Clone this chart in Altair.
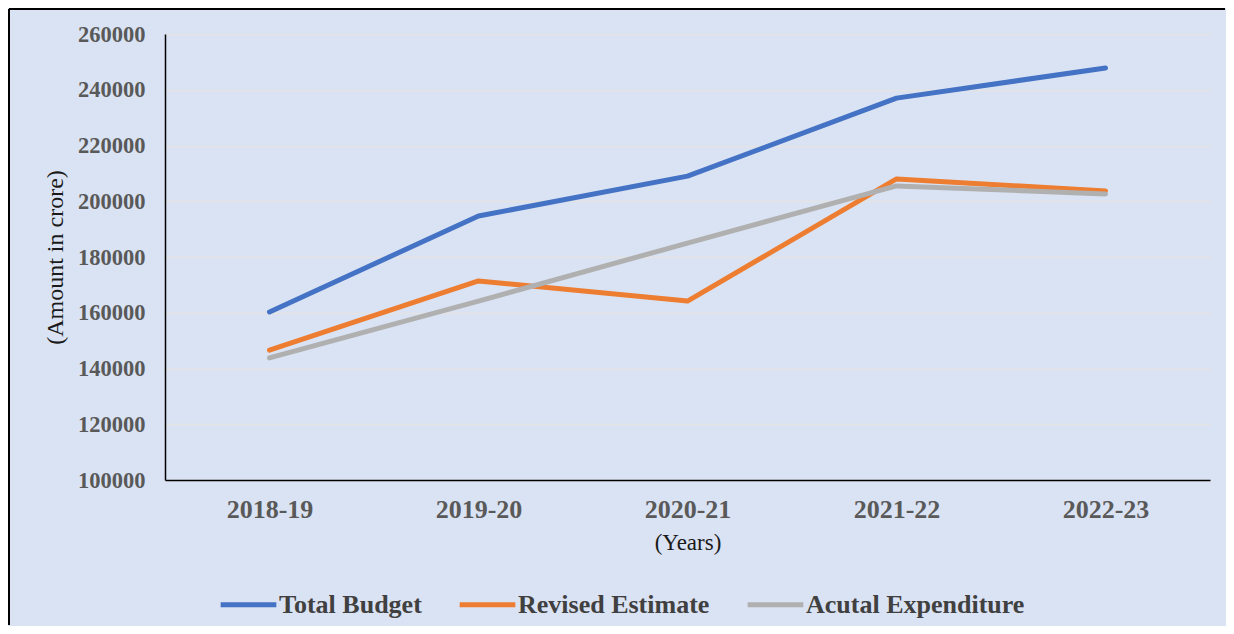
import altair as alt
import pandas as pd

years = ["2018-19", "2019-20", "2020-21", "2021-22", "2022-23"]
series = ["Total Budget", "Revised Estimate", "Acutal Expenditure"]
total_budget = [160300, 194700, 209000, 237000, 247800]
revised_estimate = [146600, 171400, 164200, 208000, 203700]
actual_expenditure = [143800, 164200, 185000, 205500, 202600]
colors = ["#4472C4", "#ED7D31", "#B0B0B0"]
y_ticks = [100000, 120000, 140000, 160000, 180000, 200000, 220000, 240000, 260000]

rows = []
for name, vals in zip(series, [total_budget, revised_estimate, actual_expenditure]):
    for yr, v in zip(years, vals):
        rows.append({"Year": yr, "Series": name, "Amount": v, "order": series.index(name)})
df = pd.DataFrame(rows)

FONT = "Liberation Serif"

lines = alt.Chart(df).mark_line(strokeWidth=5, strokeCap="round", strokeJoin="round").encode(
    x=alt.X("Year:N", sort=years, title="(Years)",
            scale=alt.Scale(type="point", padding=0.5),
            axis=alt.Axis(labelAngle=0, ticks=False, domainColor="#000000", domainWidth=1.5,
                          labelFont=FONT, labelFontSize=26, labelFontWeight="bold",
                          labelColor="#595959", labelPadding=16,
                          titleFont=FONT, titleFontSize=23, titleFontWeight="normal",
                          titleColor="#1a1a1a", titlePadding=9, grid=False)),
    y=alt.Y("Amount:Q", title="(Amount in crore)",
            scale=alt.Scale(domain=[100000, 260000], nice=False, zero=False),
            axis=alt.Axis(values=y_ticks, ticks=False, domainColor="#000000", domainWidth=1.5,
                          format="d",
                          labelFont=FONT, labelFontSize=22.5, labelFontWeight="bold",
                          labelColor="#595959", labelPadding=20,
                          titleFont=FONT, titleFontSize=24, titleFontWeight="normal",
                          titleColor="#1a1a1a", titlePadding=10,
                          grid=True, gridColor="#e4e4e4", gridWidth=1.5)),
    color=alt.Color("Series:N", sort=series,
                    scale=alt.Scale(domain=series, range=colors),
                    legend=alt.Legend(title=None, orient="none", direction="horizontal",
                                      legendX=53, legendY=540,
                                      symbolType="stroke", symbolStrokeWidth=5, symbolSize=3100,
                                      labelFont=FONT, labelFontSize=26, labelFontWeight="bold",
                                      labelColor="#404040", columnPadding=27, labelOffset=0,
                                      labelLimit=0)),
    order=alt.Order("order:Q"),
    detail="Series:N",
)

border_left = alt.Chart(df).mark_rule(color="#000000", strokeWidth=2, clip=False).encode(
    x=alt.value(-156), y=alt.value(-25), y2=alt.value(591)
)
border_top = alt.Chart(df).mark_rule(color="#000000", strokeWidth=2, clip=False).encode(
    x=alt.value(-156), x2=alt.value(1060), y=alt.value(-25)
)

chart = alt.layer(border_left, border_top, lines).properties(
    width=1045, height=446, background="#DAE3F3",
    padding={"left": 0, "top": 0, "right": 0, "bottom": 0},
).configure_view(stroke=None)

chart.save("out.html", embed_options={"renderer": "svg", "actions": False})
